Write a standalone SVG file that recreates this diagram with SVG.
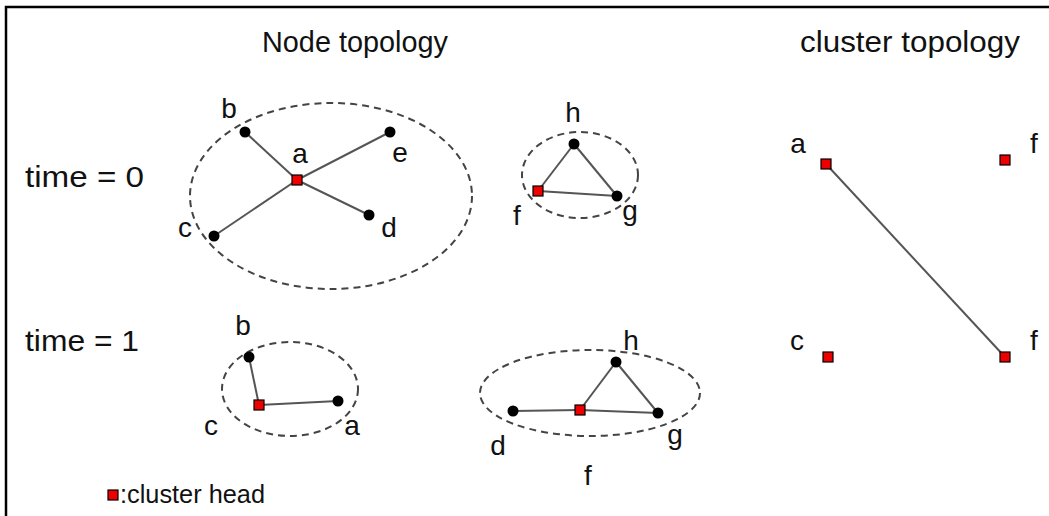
<svg xmlns="http://www.w3.org/2000/svg" width="1049" height="516" viewBox="0 0 1049 516">
<style>
text{font-family:"Liberation Sans",Arial,sans-serif;fill:#111}
.t{font-size:29px}
.lbl{font-size:28px;text-anchor:middle}
.ell{fill:none;stroke:#444;stroke-width:2;stroke-dasharray:7,5}
.edge{stroke:#555;stroke-width:2;fill:none}
.n{fill:#000}
.h{fill:#ee0000;stroke:#000;stroke-width:1.2}
</style>
<rect width="1049" height="516" fill="#fff"/>
<polyline points="6,516 6,7 1049,7" fill="none" stroke="#000" stroke-width="2.5"/>
<g id="titles">
<text class="t" x="262" y="52" textLength="186" lengthAdjust="spacingAndGlyphs">Node topology</text>
<text class="t" x="800" y="52" textLength="220" lengthAdjust="spacingAndGlyphs">cluster topology</text>
<text class="t" x="25" y="187" textLength="119" lengthAdjust="spacingAndGlyphs">time = 0</text>
<text class="t" x="25" y="351" textLength="114" lengthAdjust="spacingAndGlyphs">time = 1</text>
</g>
<g id="clusters">
<ellipse class="ell" cx="331" cy="196" rx="141" ry="93"/>
<ellipse class="ell" cx="580" cy="175" rx="58" ry="43"/>
<ellipse class="ell" cx="290" cy="389" rx="68" ry="47"/>
<ellipse class="ell" cx="590" cy="393" rx="110" ry="43"/>
</g>
<g id="connectors">
<line class="edge" x1="245" y1="132" x2="297" y2="180"/>
<line class="edge" x1="390" y1="132" x2="297" y2="180"/>
<line class="edge" x1="369" y1="215" x2="297" y2="180"/>
<line class="edge" x1="214" y1="236" x2="297" y2="180"/>
<line class="edge" x1="574" y1="144" x2="538" y2="191"/>
<line class="edge" x1="574" y1="144" x2="617" y2="196"/>
<line class="edge" x1="538" y1="191" x2="617" y2="196"/>
<line class="edge" x1="249" y1="357" x2="259" y2="405"/>
<line class="edge" x1="259" y1="405" x2="338" y2="401"/>
<line class="edge" x1="513" y1="411" x2="580" y2="410"/>
<line class="edge" x1="580" y1="410" x2="658" y2="413"/>
<line class="edge" x1="580" y1="410" x2="616" y2="362"/>
<line class="edge" x1="616" y1="362" x2="658" y2="413"/>
<line class="edge" x1="826" y1="164" x2="1005" y2="357"/>
</g>
<g id="t0-b"><circle class="n" cx="245" cy="132" r="5.5"/><text class="lbl" x="229" y="118">b</text></g>
<g id="t0-e"><circle class="n" cx="390" cy="132" r="5.5"/><text class="lbl" x="400" y="162">e</text></g>
<g id="t0-d"><circle class="n" cx="369" cy="215" r="5.5"/><text class="lbl" x="389" y="237">d</text></g>
<g id="t0-c"><circle class="n" cx="214" cy="236" r="5.5"/><text class="lbl" x="185" y="237">c</text></g>
<g id="t0-a"><rect class="h" x="292" y="175" width="10" height="10"/><text class="lbl" x="300" y="163">a</text></g>
<g id="t0-h"><circle class="n" cx="574" cy="144" r="5.5"/><text class="lbl" x="573" y="122">h</text></g>
<g id="t0-g"><circle class="n" cx="617" cy="196" r="5.5"/><text class="lbl" x="630" y="220">g</text></g>
<g id="t0-f"><rect class="h" x="533" y="186" width="10" height="10"/><text class="lbl" x="517" y="225">f</text></g>
<g id="t1-b"><circle class="n" cx="249" cy="357" r="5.5"/><text class="lbl" x="243" y="335">b</text></g>
<g id="t1-c"><rect class="h" x="254" y="400" width="10" height="10"/><text class="lbl" x="211" y="435">c</text></g>
<g id="t1-a"><circle class="n" cx="338" cy="401" r="5.5"/><text class="lbl" x="352" y="435">a</text></g>
<g id="t1-d"><circle class="n" cx="513" cy="411" r="5.5"/><text class="lbl" x="498" y="455">d</text></g>
<g id="t1-f"><rect class="h" x="575" y="405" width="10" height="10"/><text class="lbl" x="588" y="485">f</text></g>
<g id="t1-h"><circle class="n" cx="616" cy="362" r="5.5"/><text class="lbl" x="631" y="350">h</text></g>
<g id="t1-g"><circle class="n" cx="658" cy="413" r="5.5"/><text class="lbl" x="675" y="444">g</text></g>
<g id="ct-a"><rect class="h" x="821" y="159" width="10" height="10"/><text class="lbl" x="798" y="153">a</text></g>
<g id="ct-f0"><rect class="h" x="1000" y="155" width="10" height="10"/><text class="lbl" x="1034" y="153">f</text></g>
<g id="ct-c"><rect class="h" x="823" y="352" width="10" height="10"/><text class="lbl" x="797" y="350">c</text></g>
<g id="ct-f1"><rect class="h" x="1000" y="352" width="10" height="10"/><text class="lbl" x="1034" y="350">f</text></g>
<g id="legend"><rect class="h" x="108" y="490" width="10" height="10"/><text x="120" y="503" font-size="26" textLength="145" lengthAdjust="spacingAndGlyphs">:cluster head</text></g>
</svg>
